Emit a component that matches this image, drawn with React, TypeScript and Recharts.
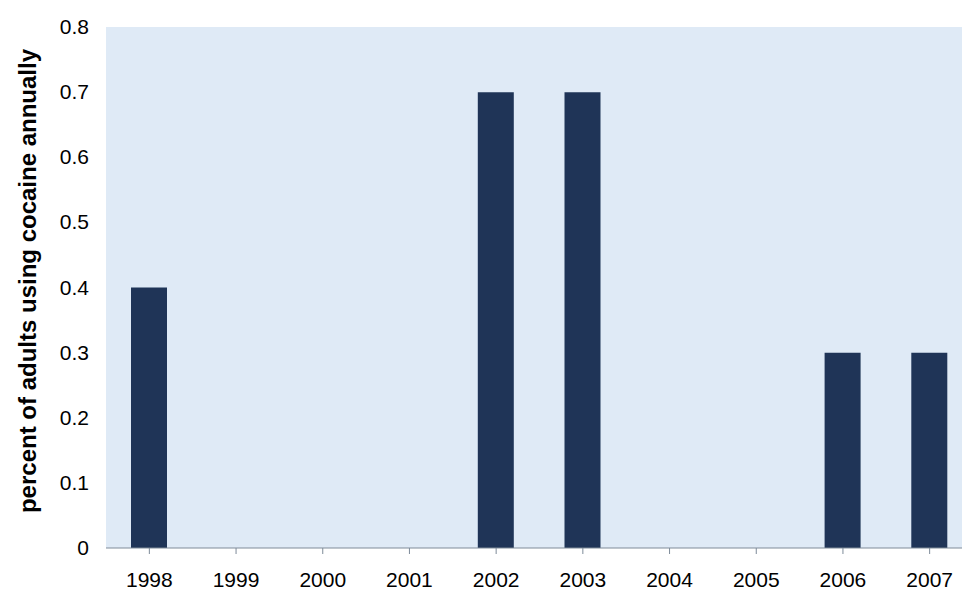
import { BarChart, Bar, XAxis, YAxis, CartesianGrid } from "recharts"

const years = ["1998", "1999", "2000", "2001", "2002", "2003", "2004", "2005", "2006", "2007"]
const usage = [0.4, 0, 0, 0, 0.7, 0.7, 0, 0, 0.3, 0.3]
const yTicks = [0, 0.1, 0.2, 0.3, 0.4, 0.5, 0.6, 0.7, 0.8]

const data = years.map((year, i) => ({ year, value: usage[i] }))

const FONT = "'Liberation Sans', Arial, sans-serif"

// custom ticks so the font size actually sticks
const XTick = (props: any) => {
  const { x, y, payload } = props
  return (
    <text x={x} y={y} dy={15} textAnchor="middle" fontSize={21} fontFamily={FONT} fill="#000">
      {payload.value}
    </text>
  )
}

const YTick = (props: any) => {
  const { x, y, payload } = props
  return (
    <text x={x} y={y} dy={7} textAnchor="end" fontSize={21} fontFamily={FONT} fill="#000">
      {payload.value === 0 ? "0" : String(payload.value)}
    </text>
  )
}

export default function App() {
  return (
    <div
      style={{
        position: "fixed",
        top: 0,
        left: 0,
        width: 962,
        height: 589,
        overflow: "hidden",
        background: "#fff",
        fontFamily: FONT,
      }}
    >
      <BarChart
        width={980}
        height={589}
        data={data}
        margin={{ top: 27, right: 7, bottom: 0, left: 0 }}
      >
        <rect x={106} y={27} width={868} height={521} fill="#dfeaf6" />
        <CartesianGrid vertical={false} stroke="#ffffff" strokeWidth={2} />
        <XAxis
          dataKey="year"
          height={41}
          tickSize={6}
          tickMargin={18}
          stroke="#7e8b99"
          tick={<XTick />}
          interval={0}
        />
        <YAxis
          width={106}
          domain={[0, 0.8]}
          ticks={yTicks}
          axisLine={false}
          tickLine={false}
          tickSize={0}
          tickMargin={17}
          tick={<YTick />}
        />
        <text
          x={36}
          y={281}
          transform="rotate(-90, 36, 281)"
          textAnchor="middle"
          fontSize={24}
          fontWeight="bold"
          fontFamily={FONT}
          fill="#000"
        >
          percent of adults using cocaine annually
        </text>
        <Bar dataKey="value" fill="#1f3457" barSize={36} isAnimationActive={false} />
      </BarChart>
    </div>
  )
}
